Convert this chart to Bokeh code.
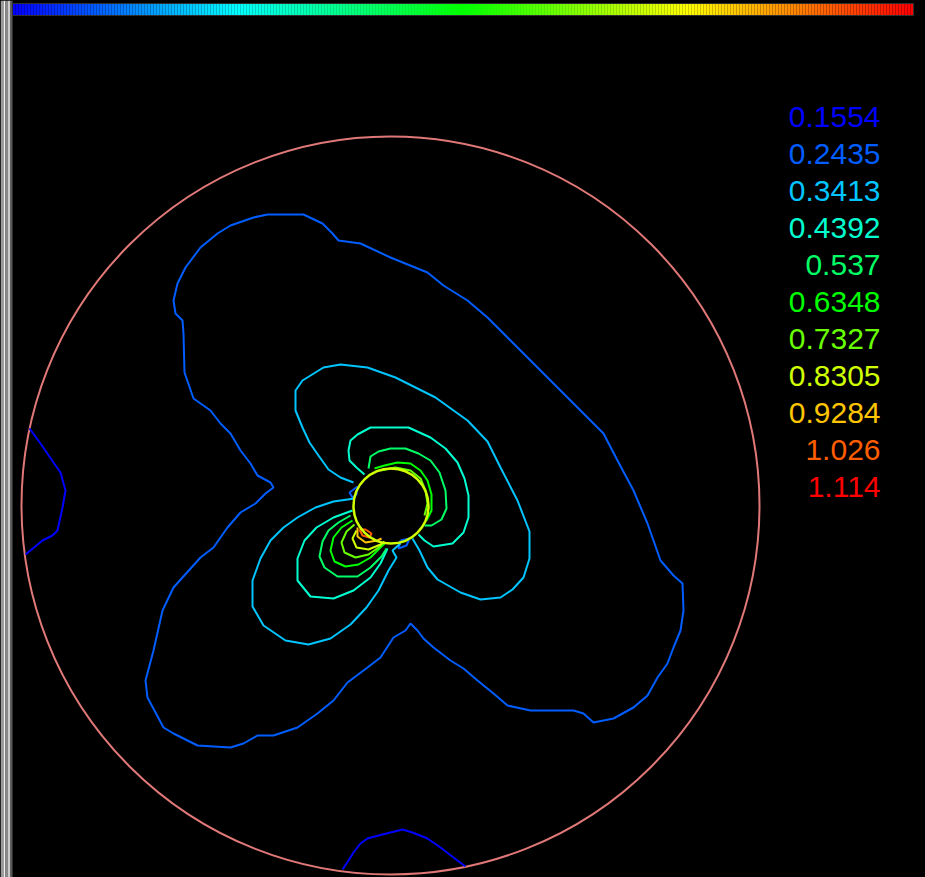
import numpy as np
from bokeh.plotting import figure
from bokeh.models import Range1d, ColumnDataSource
from bokeh.core.properties import value
from bokeh.embed import file_html
from bokeh.resources import INLINE

# ---------------- data ----------------
levels = [0.1554, 0.2435, 0.3413, 0.4392, 0.537, 0.6348, 0.7327, 0.8305, 0.9284, 1.026, 1.114]
level_labels = ["0.1554", "0.2435", "0.3413", "0.4392", "0.537", "0.6348",
                "0.7327", "0.8305", "0.9284", "1.026", "1.114"]

domain_radius = 369.0          # outer circular boundary (data units)
cylinder_x, cylinder_y = 0.5, -0.5
cylinder_radius = 37.5

# contour pieces: (level index, xs, ys)
c0_left_x = [-361, -350, -337, -330, -325, -328, -333, -338, -348, -365]
c0_left_y = [77, 62, 43, 33, 15, -2, -25, -30, -35, -49]
c0_bottom_x = [-48, -42, -37, -30, -23, -12, 0, 12, 22, 37, 50, 63, 75]
c0_bottom_y = [-364, -355, -347, -338, -333, -330, -327, -324, -327, -333, -342, -352, -361]

c1_main_x = [-123, -87, -68, -58, -52, -30, 0, 37, 53, 77, 97, 123, 143, 167, 190,
             213, 227, 243, 257, 270, 283, 292, 293, 290, 283, 277, 267, 257, 243, 223,
             203, 193, 183, 140, 117, 103, 87, 73, 60, 43, 33, 27, 20, 15, 3,
             -10, -23, -43, -57, -73, -93, -117, -133, -147, -160, -193, -217, -227, -243, -245,
             -237, -228, -217, -190, -177, -163, -150, -135, -125, -117, -120, -133, -140, -150, -160,
             -170, -180, -197, -206, -207, -208, -215, -217, -213, -205, -190, -173, -160, -137, -123]
c1_main_y = [291, 291, 282, 272, 265, 262, 248, 233, 220, 205, 188, 162, 142, 118, 95,
             72, 45, 15, -18, -55, -70, -78, -105, -125, -142, -158, -172, -190, -202, -213,
             -217, -208, -205, -205, -200, -188, -175, -163, -155, -142, -133, -125, -118, -125, -132,
             -152, -162, -177, -195, -208, -222, -230, -230, -238, -242, -240, -228, -222, -192, -175,
             -145, -105, -82, -52, -42, -22, -7, 2, 12, 18, 23, 30, 42, 55, 72,
             82, 95, 107, 133, 172, 185, 192, 205, 222, 238, 258, 272, 280, 288, 291]
c1_ul_x = [-33, -41, -38, -34, -33]
c1_ul_y = [19, 13, 8, 11, 19]
c1_lr_x = [10, 8, 16, 19, 10]
c1_lr_y = [-35, -43, -40, -33, -35]

c2_upper_x = [-37, -50, -62, -72, -81, -88, -95, -95, -88, -67, -50, -23, 5, 45, 77,
              97, 110, 127, 139, 139, 133, 122, 110, 90, 70, 47, 37, 29, 22]
c2_upper_y = [23, 28, 36, 50, 63, 78, 95, 115, 125, 138, 141, 138, 128, 108, 85,
              64, 38, 5, -26, -53, -72, -84, -92, -94, -87, -74, -62, -45, -33]
c2_lower_x = [-36, -57, -75, -93, -107, -120, -130, -138, -138, -127, -105, -82, -60, -40, -24, -12, -2, 6, 2, 10]
c2_lower_y = [7, 4, -2, -12, -22, -35, -53, -75, -101, -120, -135, -139, -133, -119, -102, -85, -65, -52, -45, -38]

c3_upper_x = [-26, -34, -41, -42, -40, -33, -20, 18, 40, 55, 67, 74, 78, 78, 73, 62, 43, 34, 28]
c3_upper_y = [31, 38, 45, 55, 65, 71, 78, 78, 68, 57, 43, 27, 10, -12, -27, -38, -41, -35, -29]
c3_lower_x = [-38, -57, -74, -86, -93, -93, -80, -57, -37, -20, -10, -3]
c3_lower_y = [-5, -12, -22, -35, -53, -75, -91, -93, -85, -72, -58, -43]

c4_upper_x = [-22, -20, -12, 0, 15, 28, 40, 49, 55, 56, 51, 41, 34]
c4_upper_y = [37, 49, 54, 57, 57, 52, 45, 33, 15, -3, -14, -20, -20]
c4_lower_x = [-40, -52, -62, -68, -71, -66, -53, -33, -20, -9, -4]
c4_lower_y = [-10, -17, -25, -36, -51, -62, -71, -71, -62, -51, -43]

c5_upper_x = [-16, -6, 7, 20, 30, 37, 41, 41, 36]
c5_upper_y = [37, 40, 43, 42, 35, 25, 11, -5, -15]
c5_lower_x = [-38, -49, -57, -60, -56, -45, -32, -20, -10, -6]
c5_lower_y = [-15, -22, -32, -45, -56, -61, -59, -52, -42, -38]

c6_upper_x = [-10, 5, 20, 30, 35, 37, 34]
c6_upper_y = [35, 38, 35, 27, 15, 2, -10]
c6_lower_x = [-36, -44, -49, -46, -35, -22, -12, -7]
c6_lower_y = [-19, -26, -37, -47, -52, -49, -42, -37]

c7_lower_x = [-34, -38, -34, -22, -10, -6]
c7_lower_y = [-25, -33, -42, -44, -39, -36]
c8_lower_x = [-33, -33, -25, -13, -9]
c8_lower_y = [-22, -31, -37, -35, -33]
c9_loop_x = [-31, -28, -21, -19, -25, -31]
c9_loop_y = [-24, -30, -32, -28, -24, -24]

pieces = [
    (0, c0_left_x, c0_left_y), (0, c0_bottom_x, c0_bottom_y),
    (1, c1_main_x, c1_main_y), (1, c1_ul_x, c1_ul_y), (1, c1_lr_x, c1_lr_y),
    (2, c2_upper_x, c2_upper_y), (2, c2_lower_x, c2_lower_y),
    (3, c3_upper_x, c3_upper_y), (3, c3_lower_x, c3_lower_y),
    (4, c4_upper_x, c4_upper_y), (4, c4_lower_x, c4_lower_y),
    (5, c5_upper_x, c5_upper_y), (5, c5_lower_x, c5_lower_y),
    (6, c6_upper_x, c6_upper_y), (6, c6_lower_x, c6_lower_y),
    (7, c7_lower_x, c7_lower_y), (8, c8_lower_x, c8_lower_y), (9, c9_loop_x, c9_loop_y),
]

# ---------------- colour map (blue-cyan-green-yellow-red) ----------------
vmin, vmax = levels[0], levels[-1]


def cmap(t):
    t = min(max(t, 0.0), 1.0)
    if t < 0.25:
        r, g, b = 0, t / 0.25, 1
    elif t < 0.5:
        r, g, b = 0, 1, 1 - (t - 0.25) / 0.25
    elif t < 0.75:
        r, g, b = (t - 0.5) / 0.25, 1, 0
    else:
        r, g, b = 1, 1 - (t - 0.75) / 0.25, 0
    return "#%02x%02x%02x" % (int(r * 255), int(g * 255), int(b * 255))


level_colors = [cmap((v - vmin) / (vmax - vmin)) for v in levels]

# ---------------- figure ----------------
p = figure(width=925, height=877,
           x_range=Range1d(-390, 535), y_range=Range1d(-372, 505),
           output_backend="svg", toolbar_location=None,
           background_fill_color="black", border_fill_color="black",
           outline_line_color=None, min_border=0,
           x_axis_location=None, y_axis_location=None)
p.xgrid.visible = False
p.ygrid.visible = False

# window-like left strip
strip_edges = [-390, -387, -385, -383, -380, -378]
strip_colors = ["#9a9a9a", "#f2f2f2", "#8a8a8a", "#cccccc", "#5a5a5a"]
p.quad(left=strip_edges[:-1], right=strip_edges[1:], bottom=-372, top=505,
       fill_color=strip_colors, line_color=None)

# colour bar along top
n = 300
edges = np.linspace(-378, 523, n + 1)
p.quad(left=edges[:-1], right=edges[1:], bottom=490, top=502,
       fill_color=[cmap(i / (n - 1)) for i in range(n)], line_color=None)
p.quad(left=[-378], right=[523], bottom=[490], top=[502], fill_color=None,
       line_color="#303030", line_width=1)

# outer boundary
p.circle(x=[0], y=[0], radius=domain_radius, fill_color=None,
         line_color="#e07878", line_width=2)

# contour lines
src = ColumnDataSource(dict(
    xs=[list(px) for _, px, _ in pieces],
    ys=[list(py) for _, _, py in pieces],
    color=[level_colors[i] for i, _, _ in pieces],
))
p.multi_line(xs="xs", ys="ys", line_color="color", line_width=2, source=src)

# cylinder surface
p.circle(x=[cylinder_x], y=[cylinder_y], radius=cylinder_radius, fill_color=None,
         line_color=level_colors[7], line_width=2.5)

# level legend
label_x = [490] * len(levels)
label_y = [389 - 37 * i for i in range(len(levels))]
p.text(x=label_x, y=label_y, text=level_labels, text_color=level_colors,
       text_font=value("Liberation Sans"), text_font_size="30px",
       text_align="right", text_baseline="middle")

html = file_html(p, INLINE, title="contour")
html = html.replace("</head>", "<style>body{background:#000;}</style></head>", 1)
open("out.html", "w").write(html)
